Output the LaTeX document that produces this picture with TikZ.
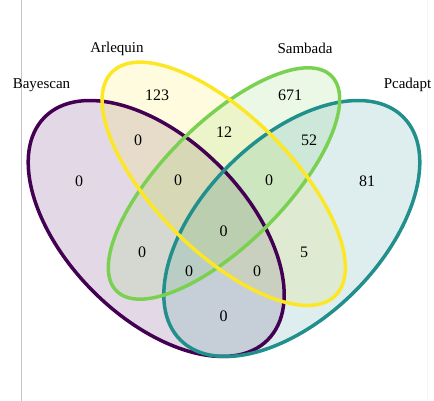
\documentclass[tikz,border=0pt]{standalone}
\usepackage{fontspec}
\setmainfont{Liberation Serif}
\definecolor{bayescol}{HTML}{440154}
\definecolor{arlecol}{HTML}{FDE725}
\definecolor{sambcol}{HTML}{7AD151}
\definecolor{pcadcol}{HTML}{21908C}
\begin{document}
\begin{tikzpicture}[x=1pt, y=-1pt,
		setfill/.style={fill opacity=0.15},
		setline/.style={line width=3.5pt},
		count/.style={font=\fontsize{16}{18}\selectfont, inner sep=0pt},
		setname/.style={font=\fontsize{15}{17}\selectfont, anchor=base, inner sep=0pt},
		bayesset/.style={rotate around={-45:(156.2,228.5)}},
		arleset/.style={rotate around={-45:(223.7,183.8)}},
		sambset/.style={rotate around={45:(224,183.5)}},
		pcadset/.style={rotate around={45:(291.8,228.5)}}]
	\useasboundingbox (0,0) rectangle (434,401);
	% thin page rules left and right
	\draw[gray!45, line width=1pt] (21.5,0) -- (21.5,401);
	\draw[gray!8, line width=1pt] (427,0) -- (427,401);
	% the four sets, light fills first
	\fill[setfill, bayescol, bayesset] (156.2,228.5) ellipse [x radius=157.6pt, y radius=89pt];
	\fill[setfill, arlecol, arleset] (223.7,183.8) ellipse [x radius=158pt, y radius=68pt];
	\fill[setfill, sambcol, sambset] (224,183.5) ellipse [x radius=152pt, y radius=60.5pt];
	\fill[setfill, pcadcol, pcadset] (291.8,228.5) ellipse [x radius=157.6pt, y radius=89pt];
	% then the outlines
	\draw[setline, bayescol, bayesset] (156.2,228.5) ellipse [x radius=157.6pt, y radius=89pt];
	\draw[setline, pcadcol, pcadset] (291.8,228.5) ellipse [x radius=157.6pt, y radius=89pt];
	\draw[setline, sambcol, sambset] (224,183.5) ellipse [x radius=152pt, y radius=60.5pt];
	\draw[setline, arlecol, arleset] (223.7,183.8) ellipse [x radius=158pt, y radius=68pt];
	% set names
	\node[setname] (bayes) at (41.5,88.5) {Bayescan};
	\node[setname] (arle) at (117,52.8) {Arlequin};
	\node[setname] (samb) at (305,54) {Sambada};
	\node[setname] (pcad) at (407.5,88.5) {Pcadapt};
	% counts per region
	\node[count] (cB) at (79,181) {0};
	\node[count] (cA) at (157,95) {123};
	\node[count] (cS) at (290,95) {671};
	\node[count] (cP) at (367,181) {81};
	\node[count] (cBA) at (138,140) {0};
	\node[count] (cAS) at (224,132) {12};
	\node[count] (cSP) at (309,140) {52};
	\node[count] (cBAS) at (178,180) {0};
	\node[count] (cASP) at (269,180) {0};
	\node[count] (cBASP) at (223.5,231) {0};
	\node[count] (cBS) at (142,252) {0};
	\node[count] (cAP) at (304,252) {5};
	\node[count] (cBSP) at (189,271) {0};
	\node[count] (cBAP) at (257,271) {0};
	\node[count] (cBP) at (223.5,316) {0};
\end{tikzpicture}
\end{document}
